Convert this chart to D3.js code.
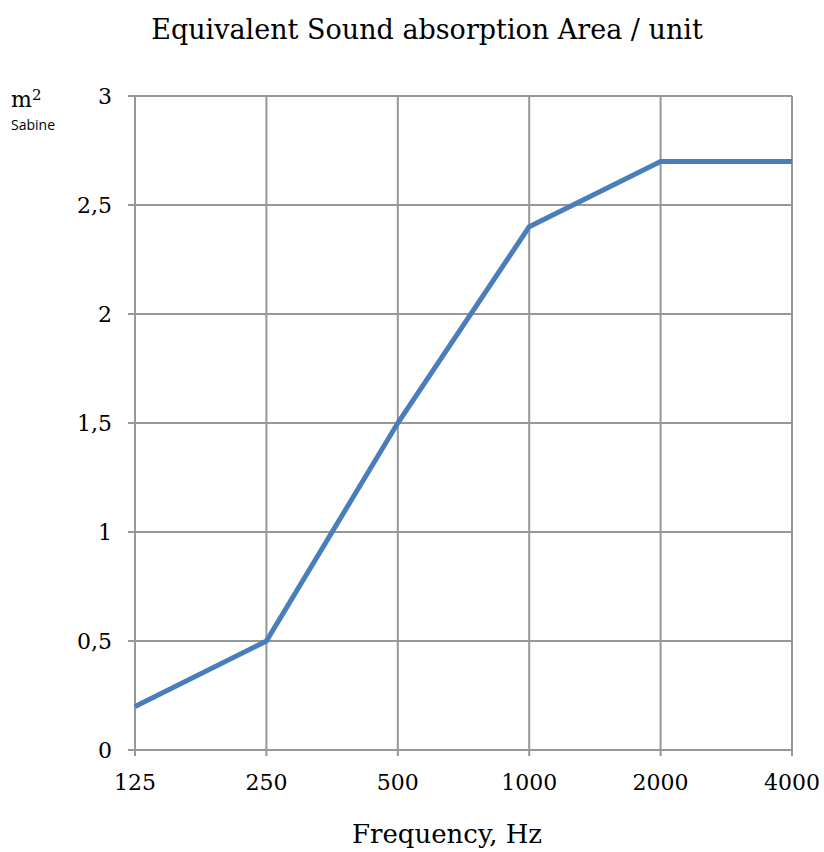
<!DOCTYPE html>
<html lang="en">
<head>
<meta charset="utf-8">
<script src="https://d3js.org/d3.v7.min.js"></script>
<style>
  body { margin: 0; background: #fff; }
  text { font-family: "DejaVu Serif", serif; fill: #000; }
</style>
</head>
<body>
<script>
var frequencies = ["125", "250", "500", "1000", "2000", "4000"];
var absorption = [0.2, 0.5, 1.5, 2.4, 2.7, 2.7];
var yTicks = [0, 0.5, 1, 1.5, 2, 2.5, 3];

var width = 824, height = 852;
var margin = {top: 96, right: 32, bottom: 102, left: 135};

var svg = d3.select("body").append("svg")
    .attr("width", width)
    .attr("height", height);

var x = d3.scalePoint()
    .domain(frequencies)
    .range([margin.left, width - margin.right]);
var y = d3.scaleLinear()
    .domain([0, 3])
    .range([height - margin.bottom, margin.top]);

var fmt = function(d) { return String(d).replace(".", ","); };

// grid
svg.append("g").selectAll("line.h")
    .data(yTicks).enter().append("line")
    .attr("x1", margin.left - 7).attr("x2", width - margin.right)
    .attr("y1", function(d) { return y(d); })
    .attr("y2", function(d) { return y(d); })
    .attr("stroke", "#979797").attr("stroke-width", 2);
svg.append("g").selectAll("line.v")
    .data(frequencies).enter().append("line")
    .attr("x1", function(d) { return x(d); })
    .attr("x2", function(d) { return x(d); })
    .attr("y1", margin.top).attr("y2", height - margin.bottom + 6)
    .attr("stroke", "#979797").attr("stroke-width", 2);

// tick labels
svg.append("g").selectAll("text")
    .data(yTicks).enter().append("text")
    .attr("x", margin.left - 23)
    .attr("y", function(d) { return y(d) + 8; })
    .attr("text-anchor", "end")
    .attr("font-size", 22)
    .text(fmt);
svg.append("g").selectAll("text")
    .data(frequencies).enter().append("text")
    .attr("x", function(d) { return x(d); })
    .attr("y", height - margin.bottom + 40)
    .attr("text-anchor", "middle")
    .attr("font-size", 22)
    .text(function(d) { return d; });

// series
var line = d3.line()
    .x(function(d, i) { return x(frequencies[i]); })
    .y(function(d) { return y(d); });
svg.append("path")
    .datum(absorption)
    .attr("d", line)
    .attr("fill", "none")
    .attr("stroke", "#4a7ebb")
    .attr("stroke-width", 5);

// titles
svg.append("text")
    .attr("x", 427).attr("y", 39)
    .attr("text-anchor", "middle")
    .attr("font-size", 27)
    .text("Equivalent Sound absorption Area / unit");
svg.append("text")
    .attr("x", 447).attr("y", 843)
    .attr("text-anchor", "middle")
    .attr("font-size", 26)
    .text("Frequency, Hz");
var unit = svg.append("text")
    .attr("x", 11).attr("y", 107)
    .attr("font-size", 22);
unit.append("tspan").text("m");
unit.append("tspan").attr("dy", -7).attr("font-size", 15).text("2");
svg.append("text")
    .attr("x", 11).attr("y", 130)
    .attr("font-size", 14)
    .style("font-family", "'Open Sans', sans-serif")
    .text("Sabine");
</script>
</body>
</html>
